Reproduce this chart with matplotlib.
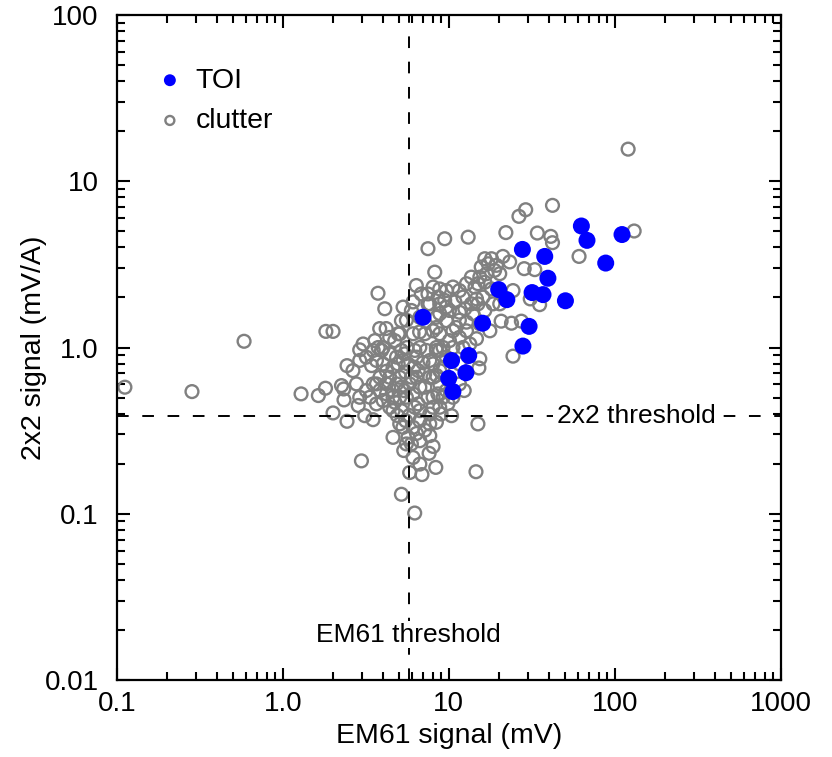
import matplotlib
matplotlib.use("Agg")
import matplotlib.pyplot as plt
from matplotlib.ticker import FixedLocator, FixedFormatter, LogLocator, NullFormatter

plt.rcParams["font.family"] = ["Liberation Sans", "DejaVu Sans"]

# targets of interest (EM61 signal mV, 2x2 signal mV/A)
toi_x = [63.0, 68.1, 110.7, 88.3, 27.8, 37.9, 39.6, 20.0, 22.4, 31.8, 37.0,
         50.5, 7.0, 16.0, 30.5, 28.0, 10.4, 13.2, 10.0, 12.7, 10.6]
toi_y = [5.38, 4.41, 4.78, 3.22, 3.89, 3.53, 2.61, 2.23, 1.94, 2.14, 2.08,
         1.91, 1.52, 1.40, 1.34, 1.02, 0.835, 0.895, 0.653, 0.705, 0.543]

# clutter
clutter_x = [0.112, 0.284, 0.585, 1.29, 1.64, 1.81, 1.82, 2.01, 2.01, 2.44,
             2.26, 2.33, 2.34, 2.44, 2.91, 2.85, 3.12, 3.5, 2.98, 3.75,
             3.84, 4.2, 4.12, 3.19, 3.51, 3.76, 3.67, 3.43, 4.03, 4.41,
             4.73, 3.85, 4.22, 3.19, 2.91, 3.35, 3.67, 4.22, 4.73, 4.62,
             5.07, 5.07, 5.31, 5.19, 4.62, 4.96, 5.19, 5.31, 5.96, 6.1,
             6.38, 6.84, 7.5, 7.5, 7.5, 6.68, 6.1, 6.7, 6.4, 7.34,
             7.17, 6.7, 5.82, 6.1, 6.55, 7.5, 7.69, 6.7, 6.7, 6.1,
             5.69, 5.96, 6.7, 7.69, 5.36, 5.82, 6.9, 7.62, 5.19, 6.24,
             8.36, 14.6, 4.62, 4.9, 5.5, 6.2, 5.4, 4.85, 7.0, 7.7,
             5.6, 4.85, 4.22, 6.4, 5.5, 5.3, 5.8, 3.67, 3.94,
             16.5, 15.7, 15.4, 16.9, 19.4, 18.9, 20.3, 18.1, 16.5, 16.1,
             14.7, 13.7, 12.8, 11.6, 10.6, 9.68, 8.83, 8.05, 15.0, 14.0,
             12.8, 11.6, 10.1, 8.83, 8.43, 9.68, 11.1, 12.8, 14.7, 13.4,
             11.6, 10.1, 8.83, 8.05, 9.25, 8.83, 8.05, 9.25, 8.05, 8.24,
             13.1, 9.46, 15.2, 15.4, 12.4, 10.4, 15.0, 8.43, 17.7, 15.4,
             8.83, 8.43, 10.6, 8.43, 9.68, 11.6, 8.6, 9.9, 9.0,
             22.1, 26.5, 29.1, 42.2, 34.2, 41.2, 42.2, 61.0, 120.5, 131.0,
             28.5, 33.0, 24.4, 21.2, 23.3, 35.3, 31.0, 20.7, 23.9, 27.4,
             24.4, 20.3,
             4.41, 4.96, 5.43, 5.69, 6.25, 6.55, 5.97, 5.19, 5.56, 6.25,
             5.19, 7.18, 7.69, 8.05, 8.43, 7.18, 8.43, 6.7, 5.56, 5.07,
             4.41, 4.03, 3.59, 2.91, 2.65, 2.78, 3.51, 4.03, 4.41, 3.85,
             5.07, 4.62, 8.83, 10.6, 11.6, 9.68, 8.83, 8.05, 7.69, 7.18,
             6.4, 5.56, 6.1, 6.7, 4.62, 8.05, 3.05, 8.83, 9.68, 7.69,
             11.6, 8.63, 9.46, 10.9, 12.2, 14.4, 13.7, 17.3, 18.1, 15.0,
             12.5, 16.5, 18.5, 10.6, 9.25, 12.2]
clutter_y = [0.577, 0.543, 1.09, 0.526, 0.514, 0.569, 1.25, 1.25, 0.404, 0.36,
             0.59, 0.563, 0.484, 0.778, 0.968, 0.448, 0.389, 0.368, 0.208, 2.12,
             1.30, 1.30, 1.71, 0.875, 0.96, 1.0, 0.836, 0.778, 0.796, 0.916,
             1.10, 0.662, 0.604, 0.551, 0.502, 0.502, 0.458, 0.526, 0.469, 0.417,
             0.502, 0.662, 0.836, 0.96, 0.762, 1.21, 1.45, 1.75, 1.67, 1.88,
             2.36, 2.10, 2.10, 1.83, 3.93, 1.24, 1.21, 1.0, 0.875, 0.96,
             0.694, 0.577, 0.604, 0.526, 0.458, 0.502, 0.398, 0.417, 0.363, 0.331,
             0.288, 0.263, 0.275, 0.295, 0.24, 0.177, 0.172, 0.231, 0.131, 0.101,
             0.19, 0.179, 0.55, 0.39, 0.71, 0.762, 0.55, 0.604, 0.81, 0.662,
             1.0, 0.875, 0.72, 0.662, 0.363, 0.331, 0.39, 0.604, 0.96,
             3.42, 3.05, 2.65, 2.78, 3.12, 2.91, 2.78, 2.25, 2.47, 2.01,
             1.96, 1.83, 2.42, 2.20, 2.31, 2.20, 2.25, 2.31, 1.83, 1.60,
             1.42, 1.63, 1.67, 1.83, 1.52, 1.45, 1.32, 1.26, 1.13, 1.05,
             1.15, 1.10, 1.21, 1.26, 0.76, 0.604, 0.797, 0.502, 0.437, 2.84,
             4.61, 4.51, 0.753, 0.855, 0.551, 0.389, 0.347, 0.355, 1.26, 1.39,
             0.96, 0.68, 1.0, 1.0, 0.875, 0.797, 0.526, 0.46, 0.398,
             4.91, 6.15, 6.74, 7.16, 4.88, 4.66, 4.27, 3.53, 15.6, 5.02,
             2.98, 2.94, 2.2, 3.53, 3.27, 1.81, 1.96, 1.44, 1.40, 1.44,
             0.887, 1.83,
             0.662, 0.796, 0.916, 0.796, 0.96, 0.726, 0.662, 0.577, 0.502, 0.437,
             0.417, 0.577, 0.836, 0.662, 0.96, 1.21, 1.32, 1.52, 1.46, 1.21,
             1.15, 1.0, 1.10, 0.836, 0.726, 0.604, 0.604, 0.48, 0.437, 0.551,
             0.347, 0.502, 0.726, 0.502, 0.604, 0.551, 0.437, 0.502, 0.347, 0.318,
             0.304, 0.263, 0.218, 0.199, 0.288, 0.254, 1.05, 1.60, 1.75, 1.83,
             1.46, 2.01, 1.92, 1.88, 2.01, 2.31, 2.65, 3.19, 3.42, 2.42,
             1.71, 1.67, 1.83, 1.26, 1.0, 1.0]

em61_threshold = 5.75
x2_threshold = 0.385

x_ticks = [0.1, 1, 10, 100, 1000]
x_labels = ["0.1", "1.0", "10", "100", "1000"]
y_ticks = [0.01, 0.1, 1, 10, 100]
y_labels = ["0.01", "0.1", "1.0", "10", "100"]

fig = plt.figure(figsize=(8.32, 7.57), dpi=100)
ax = fig.add_axes([0.1403, 0.1017, 0.798, 0.8785])

ax.scatter(clutter_x, clutter_y, s=85, facecolors="none", edgecolors="#808080",
           linewidths=1.7, zorder=2, label="clutter")
ax.scatter(toi_x, toi_y, s=150, color="#0000ff", edgecolors="none", zorder=4,
           label="TOI")

ax.axvline(em61_threshold, color="black", lw=1.4, dashes=(6, 7), zorder=3)
ax.axhline(x2_threshold, color="black", lw=1.4, dashes=(6, 7), zorder=3)

ax.text(136, x2_threshold, "2x2 threshold", fontsize=19, ha="center", va="center",
        zorder=5, bbox=dict(facecolor="white", edgecolor="none", pad=3))
ax.text(em61_threshold, 0.0187, "EM61 threshold", fontsize=19, ha="center",
        va="center", zorder=5,
        bbox=dict(facecolor="white", edgecolor="none", pad=1))

ax.set_xscale("log")
ax.set_yscale("log")
ax.set_xlim(0.1, 1000)
ax.set_ylim(0.01, 100)

ax.xaxis.set_major_locator(FixedLocator(x_ticks))
ax.xaxis.set_major_formatter(FixedFormatter(x_labels))
ax.yaxis.set_major_locator(FixedLocator(y_ticks))
ax.yaxis.set_major_formatter(FixedFormatter(y_labels))
for a in (ax.xaxis, ax.yaxis):
    a.set_minor_locator(LogLocator(base=10, subs=range(2, 10), numticks=20))
    a.set_minor_formatter(NullFormatter())

ax.tick_params(which="both", direction="in", top=True, right=True, width=1.5,
               labelsize=20)
ax.tick_params(which="major", length=9)
ax.tick_params(which="minor", length=6)
ax.tick_params(axis="x", which="major", pad=8)
ax.tick_params(axis="y", which="major", pad=13)
for sp in ax.spines.values():
    sp.set_linewidth(1.6)

ax.set_xlabel("EM61 signal (mV)", fontsize=20.5, labelpad=4)
ax.set_ylabel("2x2 signal (mV/A)", fontsize=20.5)
ax.yaxis.set_label_coords(-0.105, 0.5)

handles, labels = ax.get_legend_handles_labels()
ax.legend(handles[::-1], labels[::-1], loc="upper left", frameon=False,
          fontsize=20.5, markerscale=0.7, handletextpad=0.3, labelspacing=0.5,
          borderaxespad=0.4, bbox_to_anchor=(0.02, 0.955), handlelength=1.2)

fig.savefig("out.png", dpi=100)
